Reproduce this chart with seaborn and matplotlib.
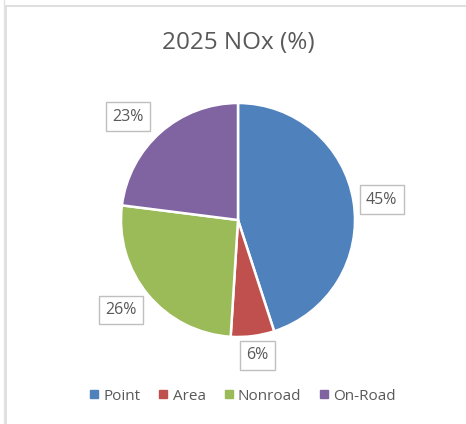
import numpy as np
import matplotlib.pyplot as plt
import seaborn as sns
from matplotlib.lines import Line2D

sources = ['Point', 'Area', 'Nonroad', 'On-Road']
shares = [45, 6, 26, 23]
colors = ['#4F81BD', '#C0504D', '#9BBB59', '#8064A2']
title = '2025 NOx (%)'

sns.set_theme(style='white')
plt.rcParams['font.family'] = ['Open Sans', 'DejaVu Sans']
text_color = '#595959'

fig = plt.figure(figsize=(4.66, 4.24), dpi=100)
fig.patch.set_facecolor('white')

# pie axes: centre ~ (238, 204) px from bottom-left, radius ~117 px
r_px = 117
half = 1.25 * r_px
ax = fig.add_axes([(238 - half) / 466, (204 - half) / 424, 2 * half / 466, 2 * half / 424])

wedges, texts = ax.pie(
    shares,
    colors=colors,
    startangle=90,
    counterclock=False,
    wedgeprops=dict(edgecolor='white', linewidth=1.8),
)
ax.set_xlim(-1.25, 1.25)
ax.set_ylim(-1.25, 1.25)
ax.set_aspect('equal')

# data labels placed near each wedge's mid angle (small nudges like the original)
label_dist = [1.24, 1.17, 1.26, 1.29]
label_nudge = [-1, 1, -2, 5.5]
for w, val, d, nd in zip(wedges, shares, label_dist, label_nudge):
    mid = np.deg2rad((w.theta1 + w.theta2) / 2 + nd)
    ax.text(d * np.cos(mid), d * np.sin(mid), f'{val}%', ha='center', va='center',
            fontsize=11.5, color=text_color,
            bbox=dict(boxstyle='square,pad=0.4', facecolor='white', edgecolor='#BFBFBF', linewidth=1))

fig.text(238 / 466, 1 - 43 / 424, title, ha='center', va='center', fontsize=17.5, color=text_color)

handles = [Line2D([0], [0], marker='s', linestyle='', markersize=5.5,
                  markerfacecolor=c, markeredgecolor=c) for c in colors]
fig.legend(handles, sources, loc='center', bbox_to_anchor=(242 / 466, 28 / 424), ncol=4,
           frameon=False, fontsize=11, handletextpad=0.2, columnspacing=1.1,
           labelcolor=text_color, handlelength=0.8)

# chart frame lines (top and left edges)
fig.add_artist(Line2D([6 / 466, 1], [1 - 6 / 424, 1 - 6 / 424], color='#D9D9D9', linewidth=1.2))
fig.add_artist(Line2D([6 / 466, 6 / 466], [0, 1 - 6 / 424], color='#D9D9D9', linewidth=1.2))
fig.add_artist(Line2D([3.5 / 466, 3.5 / 466], [0, 1], color='#E3E3E3', linewidth=1.0))

fig.savefig('out.png', dpi=100)
